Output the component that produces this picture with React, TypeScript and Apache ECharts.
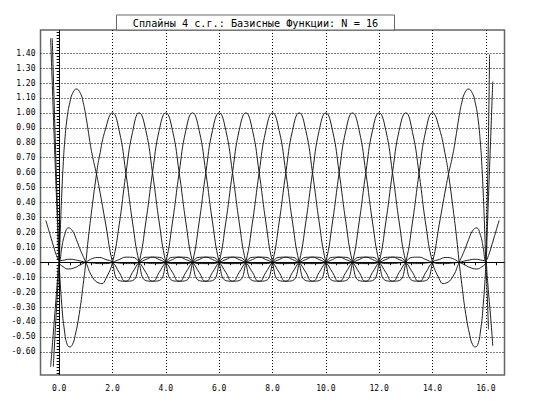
import { useEffect, useRef } from 'react';
import * as echarts from 'echarts';

const TITLE = 'Сплайны 4 с.г.: Базисные Функции: N = 16';
const X_MIN = -0.7;
const X_MAX = 16.7;
const Y_MIN = -0.755;
const Y_MAX = 1.555;

const xLabelValues = [0, 2, 4, 6, 8, 10, 12, 14, 16];
const yLabelValues = [-0.6, -0.5, -0.4, -0.3, -0.2, -0.1, 0, 0.1, 0.2, 0.3, 0.4, 0.5, 0.6, 0.7, 0.8, 0.9, 1.0, 1.1, 1.2, 1.3, 1.4];
const xMinorTicks = Array.from({ length: 43 }, (_, i) => Math.round((-0.4 + i * 0.4) * 10) / 10);
const yMinorTicks = Array.from({ length: 115 }, (_, i) => Math.round((-0.74 + i * 0.02) * 100) / 100);

// basis function nodes
const nodes = [1, 2, 3, 4, 5, 6, 7, 8, 9, 10, 11, 12, 13, 14, 15];

// interior basis function, read at offsets 0, 0.25, ... 4.0 from its node (symmetric)
const profileStep = 0.25;
const interiorProfile = [1.0, 0.882, 0.6, 0.269, 0, -0.123, -0.127, -0.068, 0, 0.033, 0.034, 0.018, 0, -0.009, -0.009, -0.005, 0];

// left-boundary shapes of the first five functions [x, y]
const leftL1 = [[-0.22, -0.7], [-0.15, -0.47], [-0.1, -0.31], [-0.05, -0.155], [0, 0], [0.05, 0.25], [0.1, 0.47], [0.15, 0.65], [0.2, 0.79], [0.3, 0.97], [0.4, 1.07], [0.5, 1.13], [0.65, 1.16], [0.8, 1.13], [0.9, 1.07], [1.0, 0.98], [1.15, 0.81], [1.25, 0.71], [1.4, 0.59], [1.5, 0.5], [1.75, 0.25], [2.0, 0]];
const leftL2 = [[-0.26, 1.5], [-0.2, 1.14], [-0.15, 0.84], [-0.1, 0.55], [-0.05, 0.27], [0, 0], [0.1, -0.29], [0.2, -0.46], [0.3, -0.55], [0.4, -0.567], [0.5, -0.55], [0.6, -0.49], [0.75, -0.35], [0.9, -0.15], [1.0, 0], [1.1, 0.17], [1.25, 0.39], [1.4, 0.59], [1.5, 0.7], [1.75, 0.9], [2.0, 1.0]];
const leftL3 = [[-0.5, 0.28], [-0.4, 0.22], [-0.3, 0.16], [-0.2, 0.1], [-0.1, 0.045], [0, 0.01], [0.1, 0.1], [0.2, 0.18], [0.35, 0.23], [0.5, 0.21], [0.65, 0.15], [0.8, 0.08], [1.0, 0], [1.25, -0.1], [1.5, -0.14], [1.6, -0.143], [1.75, -0.11], [2.0, 0], [2.25, 0.25], [2.5, 0.59], [2.75, 0.87], [3.0, 1.0]];
const leftL4 = [[-0.32, 1.5], [-0.25, 1.15], [-0.2, 0.9], [-0.15, 0.66], [-0.1, 0.43], [-0.05, 0.21], [0, 0], [0.15, -0.03], [0.35, -0.045], [0.6, -0.035], [0.8, -0.016], [1.0, 0], [1.25, 0.025], [1.5, 0.032], [1.75, 0.018], [2.0, 0]];
const leftL5 = [[-0.32, -0.7], [-0.24, -0.52], [-0.16, -0.34], [-0.08, -0.16], [0, 0], [0.2, 0.015], [0.4, 0.02], [0.7, 0.012], [1.0, 0]];
const leftShapes = [leftL1, leftL2, leftL3, leftL4, leftL5];
const leftLimits = [2.0, 2.0, 3.0, 2.0, 1.0];

// right-boundary ends (x > 16) of the last five functions
const rightEnd15 = [[16.05, -0.21], [16.1, -0.45]];
const rightEnd14 = [[16.05, 0.4], [16.1, 0.86], [16.14, 1.39]];
const rightEnd13 = [[16.1, 0.045], [16.2, 0.1], [16.3, 0.16], [16.4, 0.22], [16.5, 0.28]];
const rightEnd12 = [[16.05, 0.2], [16.1, 0.44], [16.2, 0.92], [16.26, 1.21]];
const rightEnd11 = [[16.05, -0.09], [16.1, -0.2], [16.2, -0.41], [16.26, -0.56]];
const rightEnds = [rightEnd15, rightEnd14, rightEnd13, rightEnd12, rightEnd11];

function curvePoints(k: number): number[][] {
  const n = interiorProfile.length - 1;
  let pts: number[][] = [];
  for (let i = -n; i <= n; i++) {
    pts.push([k + i * profileStep, interiorProfile[Math.abs(i)]]);
  }
  const j = k - 1;
  if (j >= 0 && j < leftShapes.length) {
    const lim = leftLimits[j];
    pts = leftShapes[j].concat(pts.filter((p) => p[0] > lim + 1e-6));
  }
  const m = 16 - k - 1;
  if (m >= 0 && m < leftShapes.length) {
    const lim = 16 - leftLimits[m];
    const mirrored = leftShapes[m]
      .filter((p) => p[0] >= 0)
      .map((p) => [16 - p[0], p[1]])
      .reverse();
    pts = pts.filter((p) => p[0] < lim - 1e-6).concat(mirrored, rightEnds[m]);
  }
  return pts;
}

const FONT = '"DejaVu Sans Mono", monospace';

export default function App() {
  const ref = useRef<HTMLDivElement>(null);
  useEffect(() => {
    if (!ref.current) return;
    const chart = echarts.init(ref.current, null, { renderer: 'svg' });
    const lineSeries = nodes.map((k, idx) => ({
      type: 'line',
      data: curvePoints(k),
      showSymbol: false,
      symbol: 'none',
      smooth: 0.5,
      silent: true,
      lineStyle: { color: '#1e1e1e', width: 1 },
      xAxisIndex: 0,
      yAxisIndex: 0,
      z: 3,
      ...(idx === 0
        ? {
            markLine: {
              silent: true,
              symbol: ['none', 'none'],
              label: { show: false },
              lineStyle: { color: '#000', type: 'solid', width: 1 },
              data: [{ yAxis: 0 }, { xAxis: 0 }],
            },
          }
        : {}),
    }));
    chart.setOption({
      animation: false,
      textStyle: { fontFamily: FONT },
      grid: {
        left: 40.5,
        top: 30,
        width: 464,
        height: 345,
        show: true,
        borderColor: '#666',
        borderWidth: 1.5,
        backgroundColor: 'transparent',
      },
      xAxis: [
        {
          type: 'value',
          min: X_MIN,
          max: X_MAX,
          position: 'bottom',
          axisLine: { show: false },
          axisTick: { show: true, customValues: xMinorTicks, length: 3, lineStyle: { color: '#000' } },
          axisLabel: { show: false },
          splitLine: { show: false },
        },
        {
          type: 'value',
          min: X_MIN,
          max: X_MAX,
          position: 'bottom',
          axisLine: { show: false },
          axisTick: { show: false, customValues: xLabelValues },
          axisLabel: {
            show: true,
            customValues: xLabelValues,
            margin: 9,
            color: '#000',
            fontFamily: FONT,
            fontSize: 8,
            formatter: (v: number) => v.toFixed(1),
          },
          splitLine: { show: true, lineStyle: { color: '#000', type: [1, 2], width: 1 } },
        },
      ],
      yAxis: [
        {
          type: 'value',
          min: Y_MIN,
          max: Y_MAX,
          position: 'left',
          axisLine: { show: false },
          axisTick: { show: true, customValues: yMinorTicks, length: 2.5, lineStyle: { color: '#000' } },
          axisLabel: { show: false },
          splitLine: { show: false },
        },
        {
          type: 'value',
          min: Y_MIN,
          max: Y_MAX,
          position: 'left',
          axisLine: { show: false },
          axisTick: { show: true, customValues: yLabelValues, length: 4, lineStyle: { color: '#000' } },
          axisLabel: {
            show: true,
            customValues: yLabelValues,
            margin: 5,
            color: '#000',
            fontFamily: FONT,
            fontSize: 8,
            formatter: (v: number) => (Math.abs(v) < 1e-9 ? '-0.00' : v.toFixed(2)),
          },
          splitLine: { show: true, lineStyle: { color: '#000', type: [1, 2], width: 1 } },
        },
      ],
      graphic: [
        {
          type: 'group',
          children: [
            {
              type: 'rect',
              shape: { x: 116.5, y: 15, width: 278, height: 15 },
              style: { fill: '#fff', stroke: '#666', lineWidth: 1 },
              z: 10,
            },
            {
              type: 'text',
              x: 255.5,
              y: 23,
              style: {
                text: TITLE,
                fontFamily: FONT,
                fontSize: 10.2,
                fill: '#000',
                align: 'center',
                verticalAlign: 'middle',
              },
              z: 11,
            },
          ],
        },
      ],
      series: lineSeries,
    });
    return () => chart.dispose();
  }, []);
  return <div ref={ref} style={{ position: 'absolute', left: 0, top: 0, width: 553, height: 415 }} />;
}
